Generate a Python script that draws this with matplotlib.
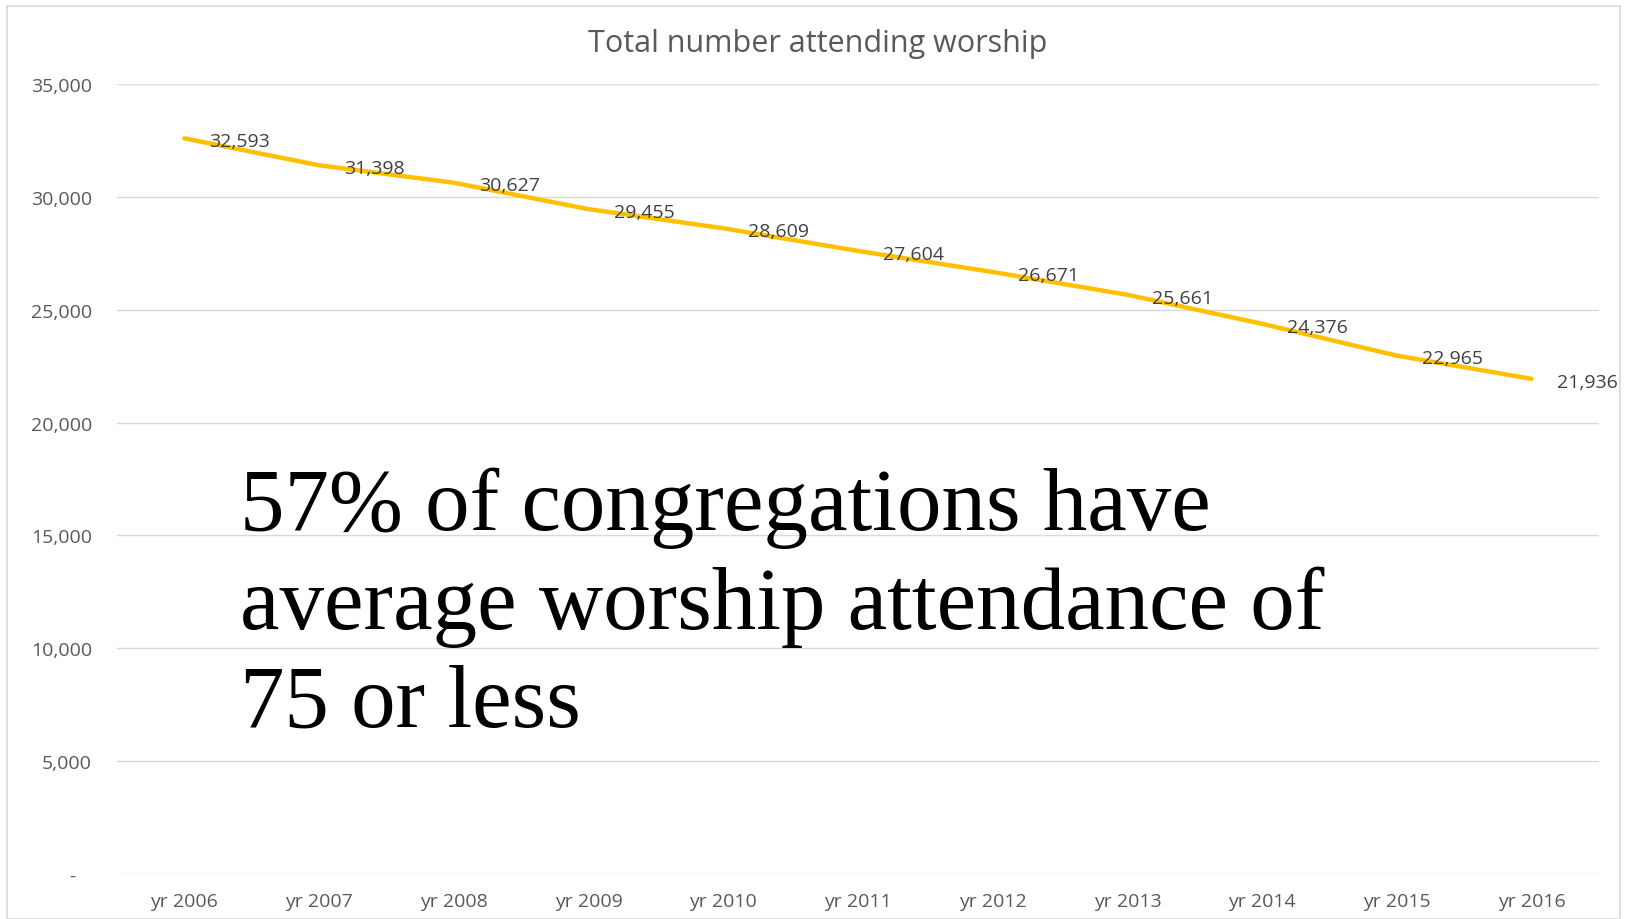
import matplotlib
matplotlib.use("Agg")
import matplotlib.pyplot as plt
from matplotlib.patches import Rectangle

years = ["yr 2006", "yr 2007", "yr 2008", "yr 2009", "yr 2010", "yr 2011",
         "yr 2012", "yr 2013", "yr 2014", "yr 2015", "yr 2016"]
attendance = [32593, 31398, 30627, 29455, 28609, 27604, 26671, 25661, 24376, 22965, 21936]
yticks = [0, 5000, 10000, 15000, 20000, 25000, 30000, 35000]
title = "Total number attending worship"
overlay = "57% of congregations have\naverage worship attendance of\n75 or less"

W, H = 1628, 920
fig = plt.figure(figsize=(W/100, H/100), dpi=100)
fig.patch.set_facecolor("white")
fig.add_artist(Rectangle((7/W, 0), (1620-7)/W, 1-7/H, transform=fig.transFigure,
                         fill=False, edgecolor="#D9D9D9", lw=1.2))

ax = fig.add_axes([117/W, 1-875/H, (1599-117)/W, (875-85)/H])
x = list(range(len(years)))
ax.plot(x, attendance, color="#FFC000", lw=3.2, solid_capstyle="round", zorder=3)
for xi, v in zip(x, attendance):
    ax.annotate(f"{v:,}", (xi, v), xytext=(18, -2), textcoords="offset points",
                ha="left", va="center", fontsize=14, color="#404040",
                family="Open Sans", zorder=4)

ax.set_xlim(-0.5, len(years) - 0.5)
ax.set_ylim(0, 35000)
ax.set_yticks(yticks)
ax.set_yticklabels(["-   "] + [f"{t:,}" for t in yticks[1:]])
ax.set_xticks(x)
ax.set_xticklabels(years)
ax.grid(axis="y", color="#D9D9D9", lw=1)
ax.set_axisbelow(True)
for s in ax.spines.values():
    s.set_visible(False)
ax.tick_params(length=0, colors="#595959")
ax.tick_params(axis="y", labelsize=14, pad=18)
ax.tick_params(axis="x", labelsize=14, pad=13)
for lab in ax.get_xticklabels() + ax.get_yticklabels():
    lab.set_family("Open Sans")

fig.text(818/W, 1-44/H, title, ha="center", va="center", fontsize=22,
         color="#595959", family="Open Sans")

fig.text(240/W, 1-727/H, overlay, ha="left", va="baseline", fontsize=64,
         family="Liberation Serif", color="black", linespacing=1.28)

fig.savefig("out.png", dpi=100)
